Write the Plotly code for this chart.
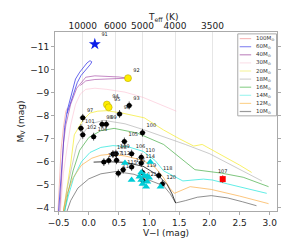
import plotly.graph_objects as go

# ---------------- data ----------------
# Evolutionary tracks (V-I, M_V)
trk_names = ["100M", "60M", "40M", "30M", "20M", "18M", "16M", "14M", "12M", "10M"]
trk_colors = ["rgba(240,110,110,0.45)", "rgba(40,40,230,0.7)", "rgba(150,40,150,0.55)",
              "rgba(250,170,195,0.45)", "rgba(245,235,40,0.7)", "rgba(160,160,160,0.55)",
              "rgba(40,160,40,0.6)", "rgba(30,230,220,0.7)", "rgba(250,160,40,0.6)",
              "rgba(70,70,70,0.6)"]
legend_colors = ["#f7bcbc", "#8f8ff2", "#c48fc4", "#fbe3ea", "#f7f5a6", "#d2d2d2",
                 "#95d495", "#a5f5f0", "#fcd594", "#9a9a9a"]

t100_vi = [-0.51, -0.49, -0.46, -0.42, -0.38, -0.35]
t100_mv = [-3.85, -5.0, -6.5, -7.5, -8.2, -8.35]

t60_vi = [-0.50, -0.47, -0.44, -0.40, -0.35, -0.30, -0.27, -0.22, -0.15, -0.08, -0.03, 0.02, 0.05,
          0.03, -0.02, -0.07, -0.13, -0.19, -0.25, -0.31, -0.36]
t60_mv = [-3.85, -5.0, -6.2, -7.5, -8.3, -8.8, -9.2, -9.6, -9.9, -10.15, -10.3, -10.4, -10.35,
          -10.25, -10.1, -9.95, -9.75, -9.45, -9.0, -8.5, -8.1]

t40_vi = [-0.48, -0.45, -0.42, -0.38, -0.30, -0.20, -0.14, -0.05, 0.10, 0.30, 0.50, 0.65,
          0.40, 0.10, -0.05, -0.14]
t40_mv = [-3.85, -5.5, -6.8, -7.6, -8.5, -9.2, -9.4, -9.68, -9.74, -9.73, -9.69, -9.64,
          -9.6, -9.58, -9.52, -9.32]

t30_vi = [-0.47, -0.42, -0.36, -0.30, -0.22, -0.14, -0.05, 0.10, 0.30, 0.60, 0.90, 1.24, 1.45]
t30_mv = [-3.85, -5.5, -6.6, -7.6, -8.5, -8.95, -9.15, -9.2, -9.15, -9.03, -8.8, -8.45, -8.2]

t20_vi = [-0.42, -0.36, -0.30, -0.24, -0.10, 0.02, 0.15, 0.29, 0.55, 0.92, 1.24, 1.50, 1.74,
          1.88, 2.20, 2.50, 2.70]
t20_mv = [-3.85, -4.9, -5.9, -7.17, -7.8, -8.12, -8.2, -8.22, -8.12, -7.91, -7.38, -7.0, -6.68,
          -6.75, -6.3, -5.85, -5.53]

t18_vi = [-0.42, -0.36, -0.28, -0.20, -0.05, 0.10, 0.25, 0.60, 0.90, 1.24, 1.60, 2.00, 2.30,
          2.60, 2.87]
t18_mv = [-3.85, -4.8, -5.8, -6.7, -7.4, -7.7, -7.8, -7.65, -7.4, -7.09, -6.75, -6.35, -5.94,
          -5.55, -5.16]

t16_vi = [-0.40, -0.34, -0.26, -0.15, 0.00, 0.20, 0.42, 0.80, 1.24, 1.50, 1.76, 2.20, 2.56, 2.98]
t16_mv = [-3.85, -4.7, -5.6, -6.5, -7.05, -7.35, -7.45, -7.25, -6.75, -6.2, -5.65, -5.5, -5.32, -4.91]

t14_vi = [-0.40, -0.34, -0.25, -0.12, 0.02, 0.20, 0.40, 0.65, 0.90, 1.10, 1.24, 1.56, 1.90,
          2.05, 2.30, 2.60, 2.95]
t14_mv = [-3.85, -4.5, -5.3, -6.0, -6.4, -6.62, -6.7, -6.65, -6.45, -6.05, -5.6, -5.16, -5.24,
          -5.2, -5.03, -4.85, -4.62]

t12_vi = [-0.42, -0.36, -0.26, -0.12, 0.05, 0.20, 0.35, 0.60, 0.90, 1.10, 1.24, 1.34, 1.42,
          1.55, 1.68, 2.03, 2.50, 2.98]
t12_mv = [-3.85, -4.6, -5.3, -5.85, -6.15, -6.28, -6.32, -6.25, -6.05, -5.75, -5.3, -4.85, -4.62,
          -4.75, -4.91, -4.79, -4.5, -4.17]

t10_vi = [-0.36, -0.30, -0.18, 0.00, 0.20, 0.45, 0.75, 1.00, 1.24, 1.35, 1.44, 1.60, 1.80,
          2.03, 2.30, 2.55, 2.78]
t10_mv = [-3.85, -4.3, -4.85, -5.25, -5.47, -5.57, -5.45, -5.2, -4.95, -4.6, -4.2, -4.3, -4.45,
          -4.52, -4.42, -4.25, -4.08]
# blue loop of the 10 Msun track (darker overlapping segment)
t10b_vi = [1.44, 1.38, 1.30, 1.15, 0.90, 0.60, 0.30, 0.08]
t10b_mv = [-4.2, -4.6, -5.0, -5.4, -5.8, -5.97, -6.0, -5.98]

trk_vi = [t100_vi, t60_vi, t40_vi, t30_vi, t20_vi, t18_vi, t16_vi, t14_vi, t12_vi, t10_vi]
trk_mv = [t100_mv, t60_mv, t40_mv, t30_mv, t20_mv, t18_mv, t16_mv, t14_mv, t12_mv, t10_mv]

# Observed stars (black circles with error bars)
obs_lab = ["93", "96", "97", "98", "99", "101", "102", "104", "100", "105", "106", "108", "109",
           "112", "110", "111", "117", "113", "114", "115", "116", "118", "119", "120", "121"]
obs_vi = [0.67, 0.51, -0.10, 0.22, 0.29, -0.13, -0.10, 0.08, 0.89, 0.59, 0.71, 0.40, 0.45,
          0.46, 0.87, 0.25, 0.33, 0.49, 0.87, 0.57, 0.71, 1.16, 0.89, 1.22, 0.90]
obs_mv = [-8.45, -8.08, -7.91, -7.63, -7.63, -7.46, -7.17, -7.09, -7.26, -6.88, -6.35, -6.33, -6.35,
          -6.06, -6.19, -5.98, -6.05, -5.49, -5.94, -5.65, -5.77, -5.40, -5.53, -5.03, -5.16]
obs_evi = [0.05] * len(obs_vi)
obs_emv = [0.17] * len(obs_vi)

# Yellow supergiants
ysg_lab = ["92", "94", "95"]
ysg_vi = [0.65, 0.30, 0.33]
ysg_mv = [-9.64, -8.49, -8.37]

# Blue star and red star
blue_lab = ["91"]
blue_vi = [0.10]
blue_mv = [-11.12]
red_lab = ["107"]
red_vi = [2.22]
red_mv = [-5.24]

# Cyan triangles
tri_vi = [0.60, 0.71, 1.02, 0.87, 0.92, 0.97, 0.87, 0.97, 0.95, 0.89, 1.19, 1.00, 0.84]
tri_mv = [-5.94, -5.20, -5.98, -5.53, -5.40, -5.36, -5.20, -5.12, -4.91, -5.03, -4.91, -5.30, -5.34]

# Top axis: effective temperature ticks
teff_labels = ["10000", "6000", "5000", "4000", "3500"]
teff_vi = [-0.10, 0.44, 0.89, 1.43, 2.05]

xticks = [-0.5, 0.0, 0.5, 1.0, 1.5, 2.0, 2.5, 3.0]
yticks = [-11, -10, -9, -8, -7, -6, -5, -4]

XR = [-0.56, 3.12]
YR = [-3.85, -11.65]

# ---------------- figure ----------------
fig = go.Figure()

for nm, c, xv, yv in zip(trk_names, trk_colors, trk_vi, trk_mv):
    fig.add_trace(go.Scatter(x=xv, y=yv, mode="lines", line=dict(color=c, width=1),
                             name=nm, showlegend=False, hoverinfo="skip"))
fig.add_trace(go.Scatter(x=t10b_vi, y=t10b_mv, mode="lines",
                         line=dict(color="rgba(20,20,20,0.8)", width=1), showlegend=False))

lab_font = dict(size=5, color="#222", family="DejaVu Sans")

fig.add_trace(go.Scatter(
    x=obs_vi, y=obs_mv, mode="markers+text", text=obs_lab, textposition="top right",
    textfont=lab_font,
    marker=dict(color="black", size=5),
    error_x=dict(type="data", array=obs_evi, color="black", thickness=0.7, width=0),
    error_y=dict(type="data", array=obs_emv, color="black", thickness=0.7, width=0),
    showlegend=False))

fig.add_trace(go.Scatter(
    x=tri_vi, y=tri_mv, mode="markers",
    marker=dict(symbol="triangle-up", color="#00ccd6", size=7), showlegend=False))

fig.add_trace(go.Scatter(
    x=ysg_vi, y=ysg_mv, mode="markers+text", text=ysg_lab, textposition="top right",
    textfont=lab_font,
    marker=dict(color="#ffee00", size=7, line=dict(color="#b0a000", width=0.5)),
    showlegend=False))

fig.add_trace(go.Scatter(
    x=blue_vi, y=blue_mv, mode="markers+text", text=blue_lab, textposition="top right",
    textfont=lab_font,
    marker=dict(symbol="star", color="#0a1ee8", size=9), showlegend=False))

fig.add_trace(go.Scatter(
    x=red_vi, y=red_mv, mode="markers+text", text=red_lab, textposition="top center",
    textfont=lab_font,
    marker=dict(symbol="square", color="#ff0000", size=6),
    error_y=dict(type="data", array=[0.17], color="#cc0000", thickness=0.7, width=0),
    showlegend=False))

# helper trace for top axis
fig.add_trace(go.Scatter(x=teff_vi, y=[None] * len(teff_vi), xaxis="x2", mode="markers",
                         showlegend=False, hoverinfo="skip"))

# ---------------- layout ----------------
L, R, T, B = 37, 30, 24, 26
W, H = 299, 240
pw, ph = W - L - R, H - T - B


def px(xpix):
    return (xpix - L) / pw


def py(ypix):
    return (H - B - ypix) / ph


tick_font = dict(size=9, color="#222", family="DejaVu Sans")

fig.update_layout(
    width=W, height=H, margin=dict(l=L, r=R, t=T, b=B),
    paper_bgcolor="white", plot_bgcolor="white",
    font=dict(family="DejaVu Sans", size=9, color="#222"),
    xaxis=dict(range=XR, tickvals=xticks, tickformat=".1f", showgrid=False, zeroline=False,
               showline=True, linecolor="#aaa", linewidth=1, mirror=True,
               ticks="outside", ticklen=3, tickcolor="#aaa", tickfont=tick_font,
               title=dict(text="V\u2212I (mag)", font=dict(size=9), standoff=2)),
    xaxis2=dict(range=XR, overlaying="x", side="top", tickvals=teff_vi, ticktext=teff_labels,
                showgrid=True, gridcolor="#e6e6e6", gridwidth=1, zeroline=False,
                ticks="", tickfont=tick_font, showline=False),
    yaxis=dict(range=YR, tickvals=yticks, showgrid=False, zeroline=False,
               showline=True, linecolor="#aaa", linewidth=1, mirror="ticks",
               ticks="outside", ticklen=3, tickcolor="#aaa", tickfont=tick_font,
               title=dict(text="M<sub>V</sub> (mag)", font=dict(size=9), standoff=4)),
)

annotations = [dict(text="T<sub>eff</sub> (K)", x=px(150), y=py(9), xref="paper", yref="paper",
                    showarrow=False, font=dict(size=9, color="#222"), xanchor="center",
                    yanchor="middle")]
shapes = [dict(type="rect", xref="paper", yref="paper", x0=px(228), x1=px(268.5),
               y0=py(113), y1=py(26), line=dict(color="#aaa", width=1), fillcolor="white",
               layer="above")]

for i, (nm, c) in enumerate(zip(trk_names, legend_colors)):
    yy = 31 + i * 8.6
    shapes.append(dict(type="line", xref="paper", yref="paper", x0=px(230), x1=px(242),
                       y0=py(yy), y1=py(yy), line=dict(color=c, width=1.2), layer="above"))
    annotations.append(dict(text=nm + "<sub>\u2299</sub>", x=px(244.5), y=py(yy), xref="paper",
                            yref="paper", showarrow=False, xanchor="left", yanchor="middle",
                            font=dict(size=5.5, color="#333")))

fig.update_layout(annotations=annotations, shapes=shapes)

fig.write_html("out.html")
